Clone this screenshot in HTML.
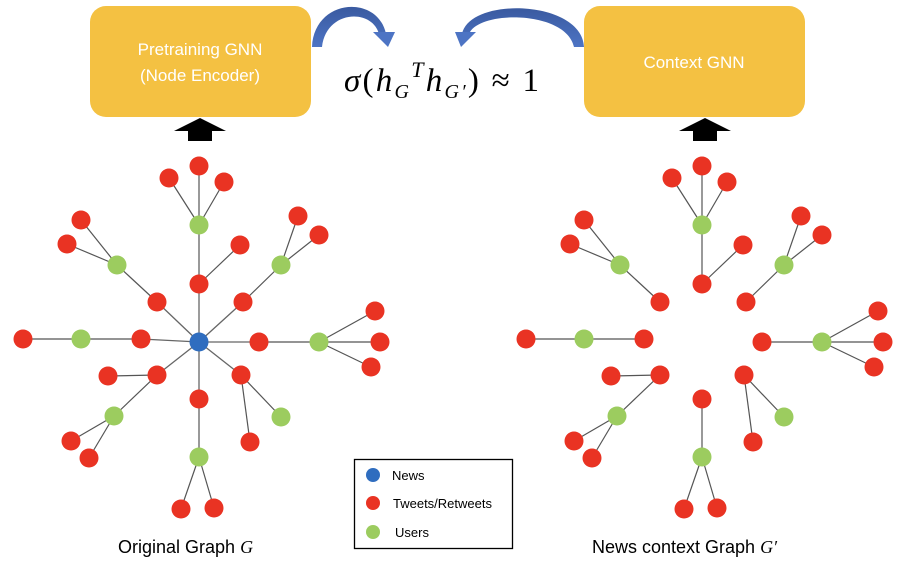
<!DOCTYPE html>
<html><head><meta charset="utf-8"><style>
html,body{margin:0;padding:0;background:#fff;}
svg{display:block;}
</style></head><body>
<svg id="s" width="903" height="571" viewBox="0 0 903 571" xmlns="http://www.w3.org/2000/svg">
<defs>
<linearGradient id="ag" x1="0" y1="0" x2="0" y2="1"><stop offset="0" stop-color="#3a5aa0"/><stop offset="1" stop-color="#4d74c4"/></linearGradient>
</defs>
<rect x="90" y="6" width="221" height="111" rx="16" fill="#F4C142"/>
<rect x="584" y="6" width="221" height="111" rx="16" fill="#F4C142"/>
<text x="200" y="55" text-anchor="middle" font-family="Liberation Sans, sans-serif" font-size="17" fill="#fff">Pretraining GNN</text>
<text x="200" y="81" text-anchor="middle" font-family="Liberation Sans, sans-serif" font-size="17" fill="#fff">(Node Encoder)</text>
<text x="694" y="68" text-anchor="middle" font-family="Liberation Sans, sans-serif" font-size="17" fill="#fff">Context GNN</text>
<polygon points="200,118 226,131 212,131 212,141 188,141 188,131 174,131" fill="#000"/>
<polygon points="705,118 731,131 717,131 717,141 693,141 693,131 679,131" fill="#000"/>
<path d="M312,47 C314,-2 378,-6 386,34 L379,34 C372,8 326,10 322,47 Z" fill="url(#ag)"/>
<polygon points="373,32 395,32 388,47" fill="#4d74c4"/>
<path d="M584,47 C582,0 470,-4 462,34 L469,34 C478,10 566,10 574,47 Z" fill="url(#ag)"/>
<polygon points="455,32 476,32 461,47" fill="#4d74c4"/>
<text x="344" y="91" textLength="195" lengthAdjust="spacing" font-family="Liberation Serif, serif" font-size="33" fill="#000"><tspan font-style="italic">σ</tspan>(<tspan font-style="italic">h</tspan><tspan font-style="italic" font-size="20" dy="7">G</tspan><tspan font-style="italic" font-size="22" dy="-21">T</tspan><tspan font-style="italic" dy="14">h</tspan><tspan font-style="italic" font-size="20" dy="7">G′</tspan><tspan dy="-7">) ≈ 1</tspan></text>
<g id="g1"></g>
<g id="g2"></g>
<rect x="354.5" y="459.5" width="158" height="89" fill="#fff" stroke="#000" stroke-width="1.3"/>
<circle cx="373" cy="475" r="7" fill="#2f6dbf"/>
<circle cx="373" cy="503" r="7" fill="#e93323"/>
<circle cx="373" cy="532" r="7" fill="#9ccc5f"/>
<g font-family="Liberation Sans, sans-serif" font-size="13" fill="#000">
<text x="392" y="480">News</text>
<text x="393" y="508">Tweets/Retweets</text>
<text x="395" y="537">Users</text>
</g>
<text x="118" y="553" font-family="Liberation Sans, sans-serif" font-size="18" fill="#000">Original Graph <tspan font-family="Liberation Serif, serif" font-style="italic">G</tspan></text>
<text x="592" y="553" font-family="Liberation Sans, sans-serif" font-size="18" fill="#000">News context Graph <tspan font-family="Liberation Serif, serif" font-style="italic">G′</tspan></text>
</svg>
<script>
var R='#e93323',G='#9ccc5f',B='#2f6dbf';
var nodes={c:[199,342,B],
t1:[199,284,R],t2:[199,225,G],t3:[169,178,R],t4:[199,166,R],t5:[224,182,R],t6:[240,245,R],
ul1:[157,302,R],ul2:[117,265,G],ul3:[81,220,R],ul4:[67,244,R],
ur1:[243,302,R],ur2:[281,265,G],ur3:[298,216,R],ur4:[319,235,R],
l1:[141,339,R],l2:[81,339,G],l3:[23,339,R],
r1:[259,342,R],r2:[319,342,G],r3:[375,311,R],r4:[380,342,R],r5:[371,367,R],
ll1:[157,375,R],ll2:[108,376,R],ll3:[114,416,G],ll4:[71,441,R],ll5:[89,458,R],
d1:[199,399,R],d2:[199,457,G],d3:[181,509,R],d4:[214,508,R],
lr1:[241,375,R],lr2:[281,417,G],lr3:[250,442,R]};
var edges=[['t1','t2'],['t2','t3'],['t2','t4'],['t2','t5'],['t1','t6'],
['ul1','ul2'],['ul2','ul3'],['ul2','ul4'],['ur1','ur2'],['ur2','ur3'],['ur2','ur4'],
['l1','l2'],['l2','l3'],['r1','r2'],['r2','r3'],['r2','r4'],['r2','r5'],
['ll1','ll2'],['ll1','ll3'],['ll3','ll4'],['ll3','ll5'],['d1','d2'],['d2','d3'],['d2','d4'],
['lr1','lr2'],['lr1','lr3']];
var cE=['t1','ul1','ur1','l1','r1','ll1','d1','lr1'];
function draw(id,dx,withC){
 var s='';
 edges.forEach(function(e){var a=nodes[e[0]],b=nodes[e[1]];s+='<line x1="'+(a[0]+dx)+'" y1="'+a[1]+'" x2="'+(b[0]+dx)+'" y2="'+b[1]+'" stroke="#555" stroke-width="1.2"/>';});
 if(withC)cE.forEach(function(k){var a=nodes.c,b=nodes[k];s+='<line x1="'+a[0]+'" y1="'+a[1]+'" x2="'+b[0]+'" y2="'+b[1]+'" stroke="#666" stroke-width="1.3"/>';});
 for(var k in nodes){if(k=='c'&&!withC)continue;var n=nodes[k];s+='<circle cx="'+(n[0]+dx)+'" cy="'+n[1]+'" r="9.5" fill="'+n[2]+'"/>';}
 document.getElementById(id).innerHTML=s;
}
draw('g1',0,true);draw('g2',503,false);
</script>
</body></html>
